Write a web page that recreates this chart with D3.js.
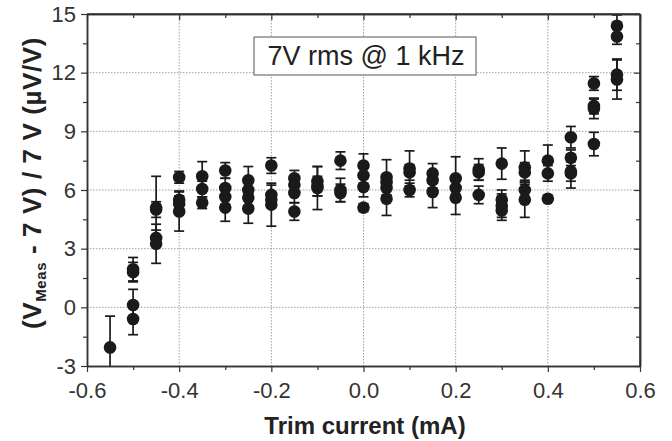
<!DOCTYPE html>
<html><head><meta charset="utf-8">
<script src="https://cdn.jsdelivr.net/npm/d3@7"></script>
<style>
html,body{margin:0;padding:0;background:#fff;}
svg{display:block;font-family:"Liberation Sans",Arial,sans-serif;}
</style></head>
<body><svg id="chart" width="672" height="441"></svg>
<script>
// Trim current (mA) of each measurement column
const trimCurrent = [-0.55,-0.5,-0.45,-0.4,-0.35,-0.3,-0.25,-0.2,-0.15,-0.1,-0.05,0.0,0.05,0.1,0.15,0.2,0.25,0.3,0.35,0.4,0.45,0.5,0.55];
// Deviation (µV/V) of the repeated measurements in each column
const deviation = [
  [-2.05],
  [1.95,1.8,0.12,-0.6],
  [5.1,5.0,3.55,3.25],
  [6.65,5.5,5.3,4.9],
  [6.7,6.05,5.35],
  [7.0,6.1,5.65,5.1],
  [6.5,6.0,5.6,5.05],
  [7.25,5.75,5.5,5.25],
  [6.6,6.25,5.85,4.9],
  [6.45,6.2,6.1],
  [7.5,6.0,5.85],
  [7.25,6.75,6.15,5.1],
  [6.65,6.4,6.1,5.55],
  [7.1,6.9,6.0],
  [6.85,6.5,5.9],
  [6.6,6.1,5.6],
  [7.05,6.9,5.75],
  [7.35,5.5,5.2,4.95],
  [7.15,6.9,6.0,5.5],
  [7.5,6.85,5.55],
  [8.7,7.65,6.95,6.85],
  [11.45,10.3,10.15,8.35],
  [14.4,13.85,11.9,11.65]
];
// Error bar half-lengths (µV/V), same layout as deviation
const uncertainty = [
  [1.6],
  [0.6,0.5,0.8,0.8],
  [1.6,0.4,0.4,1.0],
  [0.3,0.45,0.4,1.0],
  [0.75,0.4,0.3],
  [0.4,0.5,0.4,0.7],
  [0.7,0.4,0.5,0.75],
  [0.4,0.5,0.4,1.1],
  [0.4,0.3,0.5,0.45],
  [0.75,0.5,1.1],
  [0.45,0.6,0.45],
  [0.6,0.4,0.5,0.2],
  [0.9,0.4,0.5,0.85],
  [0.9,0.4,0.35],
  [0.5,0.4,0.8],
  [1.1,0.5,0.85],
  [0.55,0.4,0.45],
  [0.8,0.5,0.6,0.5],
  [0.85,0.5,0.5,0.9],
  [0.8,0.4,0.1],
  [0.55,0.4,0.5,0.75],
  [0.35,0.4,0.5,0.6],
  [0.55,0.4,0.8,1.0]
];
const xTicks = [-0.6,-0.4,-0.2,0.0,0.2,0.4,0.6];
const xMinor = [-0.5,-0.3,-0.1,0.1,0.3,0.5];
const yTicks = [-3,0,3,6,9,12,15];
const yMinor = [-1.5,1.5,4.5,7.5,10.5,13.5];
const xGrid = [-0.4,-0.2,0.0,0.2,0.4];
const yGrid = [0,3,6,9,12];
const legendText = "7V rms @ 1 kHz";

const points = [];
trimCurrent.forEach((c,i)=>{
  deviation[i].forEach((v,j)=>points.push({x:c,y:v,e:uncertainty[i][j]}));
});

const L=87,R=640,T=14,B=366;
const svg=d3.select("#chart");
const x=d3.scaleLinear().domain([-0.6,0.6]).range([L,R]);
const y=d3.scaleLinear().domain([-3,15]).range([B,T]);
const axisColor="#333";

svg.append("defs").append("clipPath").attr("id","clip")
  .append("rect").attr("x",L).attr("y",T).attr("width",R-L).attr("height",B-T);

// grid
const grid=svg.append("g").attr("stroke","#a0a0a0").attr("stroke-width",1).attr("stroke-dasharray","1.5,1.5");
grid.selectAll(".gx").data(xGrid).join("line").attr("x1",d=>x(d)).attr("x2",d=>x(d)).attr("y1",T).attr("y2",B);
grid.selectAll(".gy").data(yGrid).join("line").attr("y1",d=>y(d)).attr("y2",d=>y(d)).attr("x1",L).attr("x2",R);

// data
const dg=svg.append("g").attr("clip-path","url(#clip)");
const cap=5;
const eb=dg.append("g").attr("stroke","#1a1a1a").attr("stroke-width",1.7);
points.forEach(p=>{
  const cx=x(p.x), y1=y(p.y+p.e), y2=y(p.y-p.e);
  eb.append("line").attr("x1",cx).attr("x2",cx).attr("y1",y1).attr("y2",y2);
  eb.append("line").attr("x1",cx-cap).attr("x2",cx+cap).attr("y1",y1).attr("y2",y1);
  eb.append("line").attr("x1",cx-cap).attr("x2",cx+cap).attr("y1",y2).attr("y2",y2);
});
dg.append("g").selectAll("circle").data(points).join("circle")
  .attr("cx",d=>x(d.x)).attr("cy",d=>y(d.y)).attr("r",6.3).attr("fill","#1a1a1a");

// axes
function styleAxis(g){
  g.attr("font-size",22);
  g.select(".domain").attr("stroke",axisColor).attr("stroke-width",1.5);
  g.selectAll(".tick line").attr("stroke",axisColor).attr("stroke-width",1.2);
  g.selectAll(".tick text").attr("fill","#333").attr("font-size",22).attr("font-family","Liberation Sans, Arial, sans-serif");
}
const fmtX=d=>d3.format(".1f")(d).replace("−","-");
const bottom=svg.append("g").attr("transform",`translate(0,${B})`)
  .call(d3.axisBottom(x).tickValues(xTicks).tickFormat(fmtX).tickSize(6).tickSizeOuter(0).tickPadding(10));
styleAxis(bottom);
svg.append("g").attr("transform",`translate(0,${B})`)
  .call(d3.axisBottom(x).tickValues(xMinor).tickFormat("").tickSize(4).tickSizeOuter(0)).call(styleAxis);
const left=svg.append("g").attr("transform",`translate(${L},0)`)
  .call(d3.axisLeft(y).tickValues(yTicks).tickFormat(d=>String(d).replace("−","-")).tickSize(6).tickSizeOuter(0).tickPadding(5));
styleAxis(left);
svg.append("g").attr("transform",`translate(${L},0)`)
  .call(d3.axisLeft(y).tickValues(yMinor).tickFormat("").tickSize(4).tickSizeOuter(0)).call(styleAxis);
// top & right inward
svg.append("g").attr("transform",`translate(0,${T})`)
  .call(d3.axisBottom(x).tickValues(xTicks).tickFormat("").tickSize(6).tickSizeOuter(0)).call(styleAxis);
svg.append("g").attr("transform",`translate(0,${T})`)
  .call(d3.axisBottom(x).tickValues(xMinor).tickFormat("").tickSize(4).tickSizeOuter(0)).call(styleAxis);
svg.append("g").attr("transform",`translate(${R},0)`)
  .call(d3.axisLeft(y).tickValues(yTicks).tickFormat("").tickSize(6).tickSizeOuter(0)).call(styleAxis);
svg.append("g").attr("transform",`translate(${R},0)`)
  .call(d3.axisLeft(y).tickValues(yMinor).tickFormat("").tickSize(4).tickSizeOuter(0)).call(styleAxis);
svg.append("line").attr("x1",L).attr("x2",R).attr("y1",T).attr("y2",T).attr("stroke",axisColor).attr("stroke-width",1.5);
svg.append("line").attr("x1",R).attr("x2",R).attr("y1",T).attr("y2",B).attr("stroke",axisColor).attr("stroke-width",1.5);

// legend box
svg.append("rect").attr("x",254).attr("y",37).attr("width",222).attr("height",38)
  .attr("fill","#fff").attr("stroke","#555").attr("stroke-width",1);
svg.append("text").attr("x",366).attr("y",65).attr("text-anchor","middle")
  .attr("font-size",27).attr("fill","#222").text(legendText);

// axis titles
svg.append("text").attr("x",365).attr("y",434).attr("text-anchor","middle")
  .attr("font-size",24).attr("font-weight","bold").attr("fill","#222").text("Trim current  (mA)");
const yt=svg.append("text").attr("transform","translate(41,183) rotate(-90)").attr("text-anchor","middle")
  .attr("font-size",26).attr("font-weight","bold").attr("letter-spacing",0.6).attr("fill","#222");
yt.append("tspan").text("(V");
yt.append("tspan").attr("font-size",15).attr("dy",5).text("Meas");
yt.append("tspan").attr("dy",-5).text(" - 7 V) / 7 V  (µV/V)");
</script></body></html>
